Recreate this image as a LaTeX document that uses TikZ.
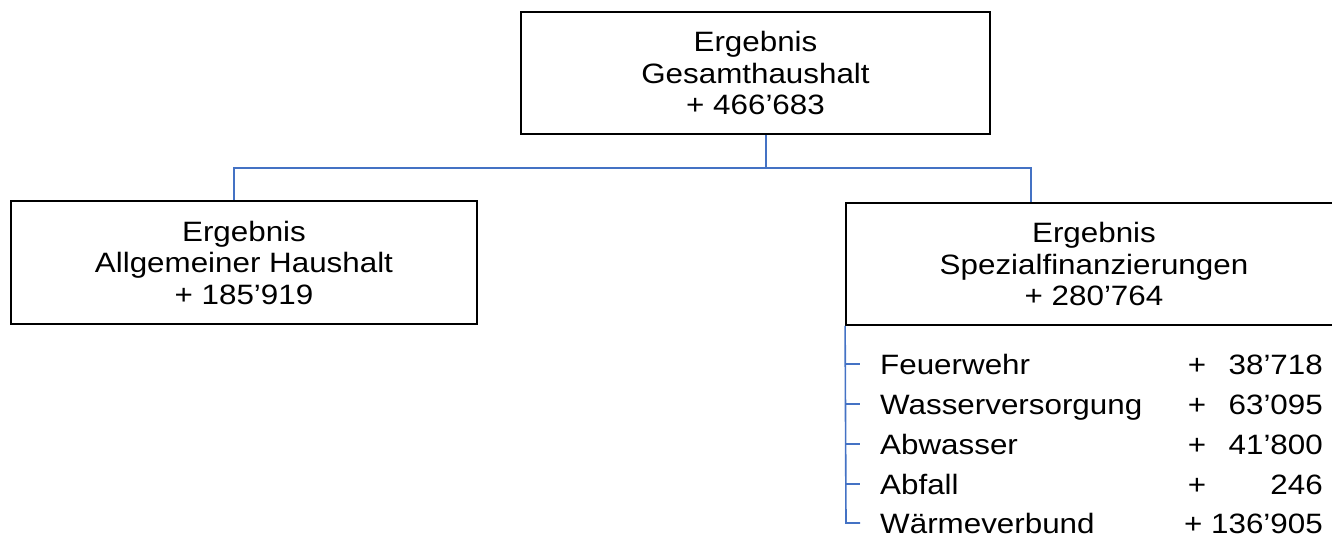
\documentclass[tikz,border=0pt]{standalone}
\usepackage{fontspec}
\setmainfont{Liberation Sans}[FakeStretch=1.12]
\definecolor{linkblue}{RGB}{68,114,196}
\begin{document}
\begin{tikzpicture}[x=1pt,y=-1pt,
  box/.style={draw=black,line width=1.8pt,rectangle,align=center,inner sep=0pt,
    font=\fontsize{28}{31.5}\selectfont},
  conn/.style={draw=linkblue,line width=1.6pt},
  lbl/.style={inner sep=0pt,font=\fontsize{28}{31.5}\selectfont}]
\useasboundingbox (0,0) rectangle (1332,538);
\node[box,minimum width=469,minimum height=122] (top) at (755.5,73)
  {Ergebnis\\Gesamthaushalt\\+ 466’683};
\node[box,minimum width=466,minimum height=123] (left) at (244,262.5)
  {Ergebnis\\Allgemeiner Haushalt\\+ 185’919};
\node[box,minimum width=496,minimum height=122] (spec) at (1094,264)
  {Ergebnis\\Spezialfinanzierungen\\+ 280’764};
\coordinate (xa) at (766,0);
\coordinate (xl) at (234,0);
\coordinate (xr) at (1031,0);
\coordinate (bus) at (766,168);
\draw[conn] (top.south -| xa) -- (bus) -| (left.north -| xl);
\draw[conn] (bus) -| (spec.north -| xr);
% list
\coordinate (t1) at (846,364);
\coordinate (t2) at (846,404);
\coordinate (t3) at (846,444);
\coordinate (t4) at (846,484);
\coordinate (t5) at (846,523);
\draw[conn] (spec.south west) -- (t5) -- ++(14,0);
\foreach \t in {t1,t2,t3,t4} \draw[conn] (\t) -- ++(14,0);
\node[lbl,anchor=base west] (n1) at (880,374) {Feuerwehr};
\node[lbl,anchor=base west] (n2) at (880,414) {Wasserversorgung};
\node[lbl,anchor=base west] (n3) at (880,454) {Abwasser};
\node[lbl,anchor=base west] (n4) at (880,494) {Abfall};
\node[lbl,anchor=base west] (n5) at (880,533) {Wärmeverbund};
\node[lbl,anchor=base] (p1) at (1197,374) {+};
\node[lbl,anchor=base] (p2) at (1197,414) {+};
\node[lbl,anchor=base] (p3) at (1197,454) {+};
\node[lbl,anchor=base] (p4) at (1197,494) {+};
\node[lbl,anchor=base east] (v1) at (1323,374) {38’718};
\node[lbl,anchor=base east] (v2) at (1323,414) {63’095};
\node[lbl,anchor=base east] (v3) at (1323,454) {41’800};
\node[lbl,anchor=base east] (v4) at (1323,494) {246};
\node[lbl,anchor=base east] (v5) at (1323,533) {+ 136’905};
\end{tikzpicture}
\end{document}
